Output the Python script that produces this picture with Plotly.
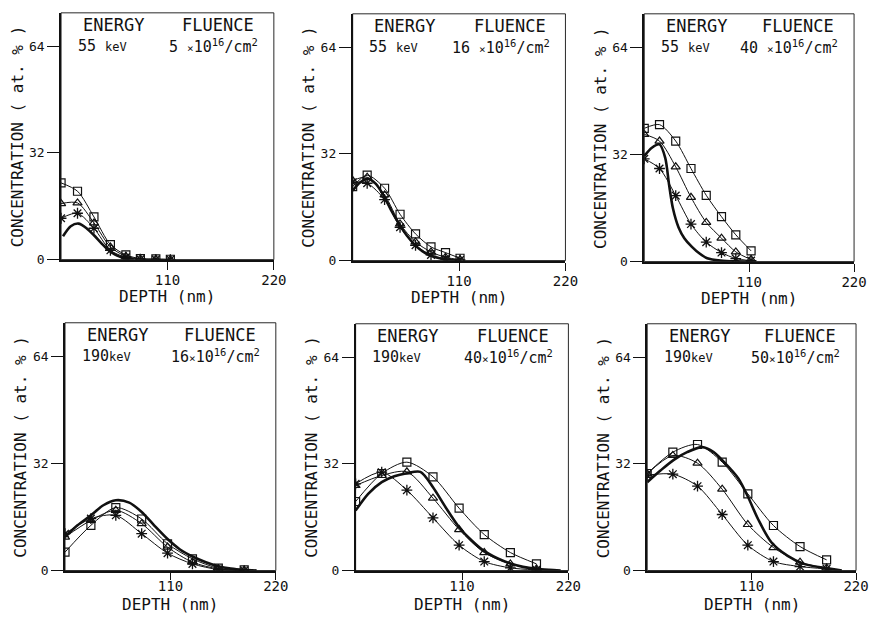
import plotly.graph_objects as go

# ---------------- data ----------------
# Panel 1: 55 keV, 5e16
depth_a = [0, 17, 34, 51, 67, 82, 98, 113]
sq_a = [23.0, 20.5, 12.8, 4.5, 1.4, 0.3, 0.2, 0.1]
tri_a = [16.8, 17.0, 11.0, 3.8, 1.0, 0.2, 0.1, 0.0]
ast_a = [12.4, 13.9, 9.4, 2.8, 0.7, 0.1, 0.0, 0.0]
calc_depth_a = [2, 10, 18, 26, 34, 42, 50, 58, 66, 75]
calc_a = [7.0, 10.0, 10.8, 9.5, 7.3, 4.8, 2.6, 1.2, 0.4, 0.0]

# Panel 2: 55 keV, 16e16
depth_b = [0, 15, 33, 49, 65, 81, 96, 111]
sq_b = [22.2, 25.6, 21.7, 13.9, 8.0, 4.1, 2.4, 0.7]
tri_b = [24.0, 25.0, 19.7, 11.0, 5.6, 2.6, 1.0, 0.3]
ast_b = [23.5, 23.2, 18.3, 10.0, 4.6, 1.7, 0.5, 0.2]
calc_depth_b = [0, 8, 16, 24, 32, 40, 48, 56, 64, 72, 80, 90, 100, 112]
calc_b = [21.0, 23.5, 24.5, 23.0, 19.5, 15.0, 11.0, 7.5, 4.8, 2.8, 1.5, 0.7, 0.2, 0.0]

# Panel 3: 55 keV, 40e16
depth_c = [0, 16, 33, 49, 65, 81, 96, 112]
sq_c = [39.8, 40.9, 36.0, 27.8, 19.8, 13.4, 8.0, 3.2]
tri_c = [38.0, 36.0, 28.3, 19.2, 11.7, 7.0, 2.9, 0.6]
ast_c = [30.7, 27.8, 19.7, 11.2, 5.8, 2.7, 0.9, 0.3]
calc_depth_c = [0, 8, 16, 22, 26, 30, 36, 42, 50, 58, 66, 80, 96, 110]
calc_c = [31.5, 34.0, 35.0, 31.0, 23.0, 16.0, 10.2, 7.0, 4.4, 2.4, 1.0, 0.3, 0.05, 0.0]

# Panel 4: 190 keV, 16e16
depth_d = [0, 27, 53, 80, 107, 133, 160, 187]
sq_d = [5.5, 13.5, 18.8, 15.4, 8.0, 3.5, 0.7, 0.2]
tri_d = [10.0, 15.0, 18.0, 14.0, 7.0, 2.5, 0.5, 0.1]
ast_d = [11.0, 15.5, 16.5, 11.0, 5.2, 2.0, 0.3, 0.0]
calc_depth_d = [0, 13, 27, 40, 53, 67, 80, 93, 107, 120, 133, 147, 160, 173, 187, 200]
calc_d = [10.0, 13.5, 16.5, 19.5, 21.0, 20.3, 17.5, 13.5, 9.4, 6.3, 4.2, 2.5, 1.3, 0.6, 0.2, 0.0]

# Panel 5: 190 keV, 40e16
depth_e = [0, 27, 53, 80, 107, 133, 160, 187]
sq_e = [20.7, 29.1, 32.5, 28.1, 18.7, 10.8, 5.4, 2.0]
tri_e = [25.5, 28.5, 29.6, 21.7, 12.3, 5.4, 2.0, 0.5]
ast_e = [26.0, 29.5, 24.1, 15.8, 7.6, 2.7, 0.8, 0.2]
calc_depth_e = [0, 13, 27, 40, 53, 67, 80, 93, 107, 120, 133, 147, 160, 173, 187, 200, 212]
calc_e = [18.0, 23.0, 26.5, 28.3, 29.2, 29.6, 25.0, 19.0, 13.0, 9.0, 5.8, 3.6, 2.1, 1.1, 0.5, 0.2, 0.0]

# Panel 6: 190 keV, 50e16
depth_f = [0, 27, 53, 79, 106, 133, 161, 189]
sq_f = [29.1, 35.5, 37.8, 32.5, 23.0, 13.5, 7.2, 3.2]
tri_f = [29.0, 34.5, 32.2, 24.4, 13.8, 6.9, 2.5, 0.7]
ast_f = [28.6, 28.9, 25.3, 16.8, 7.6, 2.7, 1.2, 0.5]
calc_depth_f = [0, 14, 28, 42, 58, 70, 80, 96, 106, 117, 131, 148, 165, 186, 205]
calc_f = [26.5, 30.0, 33.2, 35.5, 37.0, 35.5, 32.8, 27.6, 22.2, 15.3, 8.4, 4.4, 2.0, 0.8, 0.0]

energies = ["55", "55", "55", "190", "190", "190"]
fluences = ["5", "16", "40", "16", "40", "50"]
x_ticks = [110, 220]
y_ticks = [0, 32, 64]

panels = [
    (depth_a, sq_a, tri_a, ast_a, calc_depth_a, calc_a),
    (depth_b, sq_b, tri_b, ast_b, calc_depth_b, calc_b),
    (depth_c, sq_c, tri_c, ast_c, calc_depth_c, calc_c),
    (depth_d, sq_d, tri_d, ast_d, calc_depth_d, calc_d),
    (depth_e, sq_e, tri_e, ast_e, calc_depth_e, calc_e),
    (depth_f, sq_f, tri_f, ast_f, calc_depth_f, calc_f),
]

# ---------------- layout geometry (pixels) ----------------
W, H = 872, 620
boxes = [  # left, right, top, bottom
    (62, 278, 13, 263),
    (358, 574, 14, 264),
    (654, 867, 14, 265),
    (66, 280, 327, 578),
    (361, 577, 328, 578),
    (657, 869, 328, 578),
]

FONT = "DejaVu Sans Mono"
INK = "#111111"

fig = go.Figure()
layout = dict(
    width=W, height=H,
    margin=dict(l=0, r=0, t=0, b=0),
    paper_bgcolor="white", plot_bgcolor="white",
    showlegend=False,
    font=dict(family=FONT, color=INK),
)
annotations = []
shapes = []

for i, (dep, sq, tri, ast, cdep, calc) in enumerate(panels):
    n = i + 1
    xa = "x" if n == 1 else f"x{n}"
    ya = "y" if n == 1 else f"y{n}"
    l, r, t, b = boxes[i]
    top_row = i < 3

    common = dict(xaxis=xa, yaxis=ya, mode="lines+markers", hoverinfo="skip",
                  line=dict(color=INK, width=1, shape="spline", smoothing=0.8))
    fig.add_trace(go.Scatter(x=cdep, y=calc, xaxis=xa, yaxis=ya, mode="lines", hoverinfo="skip",
                             line=dict(color=INK, width=2.6, shape="spline", smoothing=0.8)))
    fig.add_trace(go.Scatter(x=dep, y=ast, **common,
                             marker=dict(symbol="asterisk-open", size=9, color=INK,
                                         line=dict(color=INK, width=1.3))))
    fig.add_trace(go.Scatter(x=dep, y=tri, **common,
                             marker=dict(symbol="triangle-up-open", size=8, color=INK,
                                         line=dict(color=INK, width=1.2))))
    fig.add_trace(go.Scatter(x=dep, y=sq, **common,
                             marker=dict(symbol="square-open", size=8, color=INK,
                                         line=dict(color=INK, width=1.2))))

    xkey = "xaxis" if n == 1 else f"xaxis{n}"
    ykey = "yaxis" if n == 1 else f"yaxis{n}"
    layout[xkey] = dict(
        domain=[l / W, r / W], anchor=ya, range=[0, 220],
        tickvals=x_ticks, ticktext=[str(v) for v in x_ticks],
        ticks="outside", ticklen=8 if top_row else 7, tickwidth=1.3, tickcolor=INK,
        ticklabelstandoff=-1 if top_row else -5,
        showline=True, linecolor=INK, linewidth=2,
        showgrid=False, zeroline=False,
        tickfont=dict(family=FONT, size=14, color=INK),
        fixedrange=True,
    )
    layout[ykey] = dict(
        domain=[1 - b / H, 1 - t / H], anchor=xa, range=[0, 74],
        tickvals=y_ticks, ticktext=[str(v) for v in y_ticks],
        ticks="outside", ticklen=12, tickwidth=1.3, tickcolor=INK,
        showline=True, linecolor=INK, linewidth=1.6,
        showgrid=False, zeroline=False,
        tickfont=dict(family=FONT, size=13, color=INK),
        fixedrange=True,
    )
    # thin frame (top/right)
    shapes.append(dict(type="rect", xref=f"{xa} domain", yref=f"{ya} domain",
                       x0=0, x1=1, y0=0, y1=1, line=dict(color=INK, width=0.9),
                       layer="below"))

    pw = r - l
    ph = b - t
    # header line 1
    annotations.append(dict(xref=f"{xa} domain", yref=f"{ya} domain",
                            x=20 / pw, y=1 - 12 / ph, xanchor="left", yanchor="middle",
                            text="ENERGY",
                            showarrow=False, font=dict(family=FONT, size=17, color=INK)))
    annotations.append(dict(xref=f"{xa} domain", yref=f"{ya} domain",
                            x=1 - 18 / pw, y=1 - 12 / ph, xanchor="right", yanchor="middle",
                            text="FLUENCE",
                            showarrow=False, font=dict(family=FONT, size=17, color=INK)))
    # header line 2
    gap = " " if top_row else ""
    sp = " " if top_row else ""
    annotations.append(dict(xref=f"{xa} domain", yref=ya,
                            x=15 / pw, y=64, xanchor="left", yanchor="middle",
                            text=f'{energies[i]}{gap}<span style="font-size:12px">keV</span>',
                            showarrow=False, font=dict(family=FONT, size=15, color=INK)))
    annotations.append(dict(xref=f"{xa} domain", yref=ya,
                            x=1 - 14 / pw, y=64, xanchor="right", yanchor="middle",
                            text=f'{fluences[i]}{sp}<span style="font-size:11px">×</span>10<sup>16</sup>/cm<sup>2</sup>',
                            showarrow=False, font=dict(family=FONT, size=15, color=INK)))
    # axis titles
    annotations.append(dict(xref=f"{xa} domain", yref=f"{ya} domain",
                            x=0, y=0.5, xshift=-44, xanchor="center", yanchor="middle",
                            textangle=-90,
                            text="CONCENTRATION ( at. % )",
                            showarrow=False, font=dict(family=FONT, size=16, color=INK)))
    annotations.append(dict(xref=xa, yref=f"{ya} domain",
                            x=110, y=0, yshift=-(37 if top_row else 34),
                            xanchor="center", yanchor="middle",
                            text="DEPTH (nm)",
                            showarrow=False, font=dict(family=FONT, size=16, color=INK)))

layout["annotations"] = annotations
layout["shapes"] = shapes
fig.update_layout(**layout)
fig.write_html("out.html",
               config={"displayModeBar": False},
               post_script="document.body.style.margin='0';document.body.style.padding='0';")
